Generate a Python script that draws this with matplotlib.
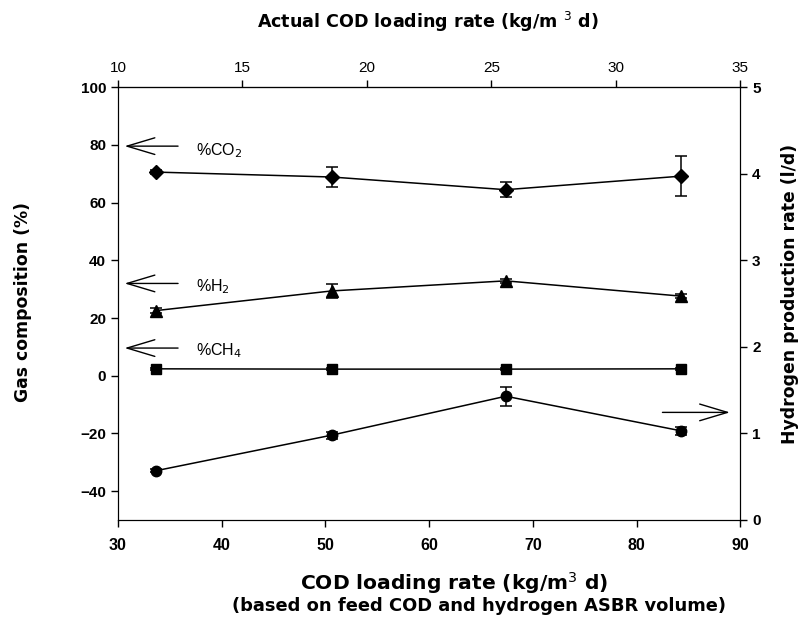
import matplotlib
matplotlib.use("Agg")
import matplotlib.pyplot as plt
import numpy as np

plt.rcParams['font.family'] = ['Liberation Sans', 'DejaVu Sans']

# Data
cod_loading = [33.7, 50.6, 67.4, 84.3]
co2 = [70.6, 68.9, 64.5, 69.2]
co2_err = [0.8, 3.4, 2.6, 7.0]
h2 = [22.6, 29.4, 32.9, 27.6]
h2_err = [0.8, 2.3, 0.8, 0.8]
ch4 = [2.4, 2.3, 2.3, 2.4]
ch4_err = [0.3, 0.3, 0.3, 0.3]
h2_rate = [0.57, 0.98, 1.43, 1.03]
h2_rate_err = [0.02, 0.04, 0.11, 0.05]

left_ticks = [-40, -20, 0, 20, 40, 60, 80, 100]
right_ticks = [0, 1, 2, 3, 4, 5]
bottom_ticks = [30, 40, 50, 60, 70, 80, 90]
top_ticks = [10, 15, 20, 25, 30, 35]

fig = plt.figure(figsize=(8.02, 6.28), dpi=100)
ax = fig.add_axes([0.147, 0.172, 0.776, 0.689])

ekw = dict(color='black', lw=1.1, capsize=4, elinewidth=1.1, capthick=1.1)
ax.errorbar(cod_loading, co2, yerr=co2_err, marker='D', ms=7.5, **ekw)
ax.errorbar(cod_loading, h2, yerr=h2_err, marker='^', ms=8, **ekw)
ax.errorbar(cod_loading, ch4, yerr=ch4_err, marker='s', ms=7, **ekw)

ax.set_xlim(30, 90)
ax.set_ylim(-50, 100)
ax.set_xticks(bottom_ticks)
ax.set_yticks(left_ticks)
for lab in ax.get_yticklabels():
    lab.set_fontweight('bold')
    lab.set_fontsize(11)
for lab in ax.get_xticklabels():
    lab.set_fontweight('bold')
    lab.set_fontsize(11.5)
ax.tick_params(direction='out', length=5, width=1)
ax.tick_params(axis='x', pad=8)

ax2 = ax.twinx()
ax2.errorbar(cod_loading, h2_rate, yerr=h2_rate_err, marker='o', ms=7.5, **ekw)
ax2.set_ylim(0, 5)
ax2.set_yticks(right_ticks)
for lab in ax2.get_yticklabels():
    lab.set_fontweight('bold')
    lab.set_fontsize(11)
ax2.tick_params(direction='out', length=5, width=1)

secx = ax.secondary_xaxis('top', functions=(lambda x: 10 + (x - 30) * 25 / 60,
                                            lambda t: 30 + (t - 10) * 60 / 25))
secx.set_xticks(top_ticks)
secx.tick_params(direction='out', length=5, width=1, labelsize=11)

lab_font = dict(family='DejaVu Sans', fontweight='bold')
W, H = 802, 628
fig.text(428 / W, 1 - 22 / H, 'Actual COD loading rate (kg/m $^3$ d)', fontsize=12.6,
         ha='center', va='center', **lab_font)
fig.text(23 / W, 1 - 302 / H, 'Gas composition (%)', fontsize=12.4, rotation=90,
         ha='center', va='center', **lab_font)
fig.text(790 / W, 1 - 294 / H, 'Hydrogen production rate (l/d)', fontsize=12.4, rotation=90,
         ha='center', va='center', **lab_font)
fig.text(454 / W, 1 - 583 / H, 'COD loading rate (kg/m$^3$ d)', fontsize=14.6,
         ha='center', va='center', **lab_font)
fig.text(479 / W, 1 - 606 / H, '(based on feed COD and hydrogen ASBR volume)', fontsize=12.9,
         ha='center', va='center', **lab_font)

arrow = dict(arrowstyle='->,head_length=2.0,head_width=0.6', color='black', lw=1,
             shrinkA=0, shrinkB=0)
for y, ty, txt in [(79.6, 78.0, '%CO$_2$'), (32, 31.0, '%H$_2$'), (9.6, 8.8, '%CH$_4$')]:
    ax.annotate('', xy=(30.65, y), xytext=(35.8, y), arrowprops=arrow)
    ax.text(37.5, ty, txt, fontsize=11.5, va='center', ha='left')
ax.annotate('', xy=(89.0, -12.7), xytext=(82.5, -12.7), arrowprops=arrow)

fig.savefig('out.png', dpi=100)
